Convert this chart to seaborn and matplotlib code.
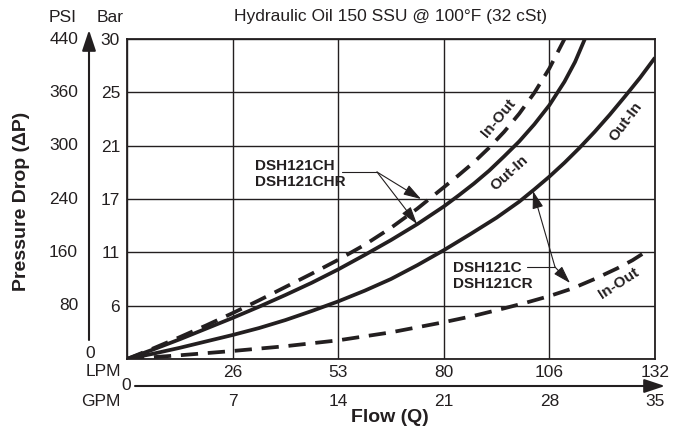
import matplotlib
matplotlib.use("Agg")
import matplotlib.pyplot as plt
import matplotlib.transforms as mtransforms
from matplotlib.lines import Line2D
from matplotlib.patches import FancyArrowPatch
import pandas as pd
import seaborn as sns

# ---------------- data ----------------
gpm_ticks = [0, 7, 14, 21, 28, 35]
lpm_labels = ["", "26", "53", "80", "106", "132"]
gpm_labels = ["", "7", "14", "21", "28", "35"]
levels = [0, 1, 2, 3, 4, 5, 6]
psi_labels = ["0", "80", "160", "240", "300", "360", "440"]
bar_labels = ["", "6", "11", "17", "21", "25", "30"]

# curves: flow in GPM, pressure in chart grid divisions (0..6)
ch_inout_gpm = [0, 1.75, 3.5, 5.25, 7, 8.75, 10.5, 12.25, 14, 15.75, 17.5, 19.25,
                21, 22, 23, 24, 25, 26, 27, 28, 29]
ch_inout_lvl = [0, 0.2, 0.41, 0.63, 0.86, 1.1, 1.35, 1.6, 1.86, 2.14, 2.46, 2.82,
                3.22, 3.45, 3.69, 3.96, 4.26, 4.6, 4.99, 5.45, 6.0]

ch_outin_gpm = [0, 1.75, 3.5, 5.25, 7, 8.75, 10.5, 12.25, 14, 15.75, 17.5, 19.25,
                21, 22, 23, 24, 25, 26, 27, 28, 29, 29.7, 30.35]
ch_outin_lvl = [0, 0.18, 0.37, 0.57, 0.77, 0.98, 1.2, 1.43, 1.68, 1.95, 2.23, 2.53,
                2.86, 3.07, 3.29, 3.53, 3.8, 4.08, 4.4, 4.76, 5.2, 5.57, 6.0]

c_outin_gpm = [0, 1.75, 3.5, 5.25, 7, 8.75, 10.5, 12.25, 14, 15.75, 17.5, 19.25,
               21, 22.75, 24.5, 26, 27, 28, 29, 30, 31, 32, 33, 34, 35]
c_outin_lvl = [0, 0.1, 0.21, 0.33, 0.45, 0.58, 0.73, 0.9, 1.08, 1.28, 1.5, 1.76,
               2.04, 2.34, 2.65, 2.95, 3.18, 3.42, 3.68, 3.96, 4.26, 4.58, 4.92, 5.27, 5.65]

c_inout_gpm = [0, 3.5, 7, 10.5, 14, 17.5, 21, 23, 25, 26.5, 28, 29.5, 31, 32.5,
               33.5, 34.5]
c_inout_lvl = [0, 0.07, 0.15, 0.24, 0.35, 0.5, 0.69, 0.81, 0.95, 1.06, 1.18, 1.32,
               1.5, 1.7, 1.85, 2.03]

curve_names = ["DSH121CH In-Out", "DSH121CH Out-In", "DSH121C Out-In", "DSH121C In-Out"]

title = "Hydraulic Oil 150 SSU @ 100°F (32 cSt)"

# ---------------- style ----------------
sns.set_style("white")
plt.rcParams["font.family"] = ["Liberation Sans", "DejaVu Sans"]
INK = "#231f20"
W, H = 685, 432

fig = plt.figure(figsize=(W / 100, H / 100), dpi=100)
L, R, T, B = 127, 655, 39, 359
ax = fig.add_axes([L / W, 1 - B / H, (R - L) / W, (B - T) / H])


def fpx(x, y):
    """figure pixel (top-left origin) -> figure fraction"""
    return (x / W, 1 - y / H)


frames = []
for name, gx, gy in zip(curve_names,
                        [ch_inout_gpm, ch_outin_gpm, c_outin_gpm, c_inout_gpm],
                        [ch_inout_lvl, ch_outin_lvl, c_outin_lvl, c_inout_lvl]):
    frames.append(pd.DataFrame({"GPM": gx, "level": gy, "curve": name}))
df = pd.concat(frames, ignore_index=True)

for name in curve_names:
    sub = df[df["curve"] == name]
    ls = (0, (4.6, 2.6)) if "In-Out" in name else "-"
    sns.lineplot(data=sub, x="GPM", y="level", ax=ax, color=INK, lw=2.7,
                 linestyle=ls, sort=False, estimator=None,
                 solid_capstyle="butt", dash_capstyle="butt",
                 solid_joinstyle="round", zorder=3)

ax.set_xlim(0, 35)
ax.set_ylim(0, 6)
ax.set_xticks(gpm_ticks)
ax.set_xticklabels(lpm_labels)
ax.set_yticks(levels)
ax.set_yticklabels(bar_labels)
ax.set_xlabel("")
ax.set_ylabel("")
ax.grid(True, color=INK, lw=1.0)
ax.tick_params(length=0, labelsize=12.5, colors=INK)
ax.tick_params(axis="y", pad=5)
ax.tick_params(axis="x", pad=4)
for s in ax.spines.values():
    s.set_color(INK)
    s.set_linewidth(1.3)
    s.set_visible(True)

# PSI column
tr_psi = mtransforms.blended_transform_factory(ax.transAxes, ax.transData)
for lv, lab in zip(levels[1:], psi_labels[1:]):
    ax.text((78 - L) / (R - L), lv, lab, transform=tr_psi, ha="right",
            va="center", fontsize=12.5, color=INK)
fig.text(*fpx(90, 354), psi_labels[0], ha="center", va="center", fontsize=12.5, color=INK)

# GPM row
tr_gpm = mtransforms.blended_transform_factory(ax.transData, ax.transAxes)
for g, lab in zip(gpm_ticks[1:], gpm_labels[1:]):
    ax.text(g, (B - 402) / (B - T), lab, transform=tr_gpm, ha="center",
            va="center", fontsize=12.5, color=INK)

fig.text(*fpx(63, 17), "PSI", ha="center", va="center", fontsize=12.5, color=INK)
fig.text(*fpx(110, 17), "Bar", ha="center", va="center", fontsize=12.5, color=INK)
fig.text(*fpx(103, 372), "LPM", ha="center", va="center", fontsize=12.5, color=INK)
fig.text(*fpx(126, 386), "0", ha="center", va="center", fontsize=12.5, color=INK)
fig.text(*fpx(101, 402), "GPM", ha="center", va="center", fontsize=12.5, color=INK)
fig.text(*fpx(391, 17), title, ha="center", va="center", fontsize=12.5, color=INK)
fig.text(*fpx(390, 418), "Flow (Q)", ha="center", va="center", fontsize=14,
         fontweight="bold", color=INK)
fig.text(*fpx(22, 201), "Pressure Drop (\u0394P)", ha="center", va="center",
         fontsize=14, fontweight="bold", rotation=90, color=INK)

# axis arrows
arr = dict(arrowstyle="-|>,head_length=0.9,head_width=0.3", color=INK, lw=1.5,
           shrinkA=0, shrinkB=0, mutation_scale=14)
fig.add_artist(FancyArrowPatch(fpx(89, 340), fpx(89, 30), transform=fig.transFigure, **arr))
fig.add_artist(FancyArrowPatch(fpx(135, 386), fpx(665, 386), transform=fig.transFigure, **arr))

# curve tags
tag = dict(ha="center", va="center", fontsize=11, fontweight="bold", color=INK,
           rotation_mode="anchor", transform=fig.transFigure)
fig.text(*fpx(498, 118), "In-Out", rotation=50, **tag)
fig.text(*fpx(509, 173), "Out-In", rotation=42, **tag)
fig.text(*fpx(626, 122), "Out-In", rotation=53, **tag)
fig.text(*fpx(619, 283), "In-Out", rotation=33, **tag)

# model call-outs
lab = dict(ha="left", va="center", fontsize=11, fontweight="bold", color=INK,
           linespacing=1.15)
fig.text(*fpx(255, 174), "DSH121CH\nDSH121CHR", **lab)
fig.text(*fpx(453, 276), "DSH121C\nDSH121CR", **lab)

thin = dict(arrowstyle="-|>,head_length=0.9,head_width=0.28", color=INK, lw=0.8,
            shrinkA=0, shrinkB=0, mutation_scale=12)
fig.add_artist(Line2D([fpx(342, 172)[0], fpx(377, 172)[0]],
                      [fpx(342, 172)[1], fpx(377, 172)[1]],
                      transform=fig.transFigure, color=INK, lw=0.8))
for tip in [(421, 199), (417, 224)]:
    fig.add_artist(FancyArrowPatch(fpx(377, 172), fpx(*tip), transform=fig.transFigure, **thin))
fig.add_artist(Line2D([fpx(527, 267)[0], fpx(555, 267)[0]],
                      [fpx(527, 267)[1], fpx(555, 267)[1]],
                      transform=fig.transFigure, color=INK, lw=0.8))
for tip in [(533, 191), (570, 283)]:
    fig.add_artist(FancyArrowPatch(fpx(555, 267), fpx(*tip), transform=fig.transFigure, **thin))

fig.savefig("out.png", dpi=100)
